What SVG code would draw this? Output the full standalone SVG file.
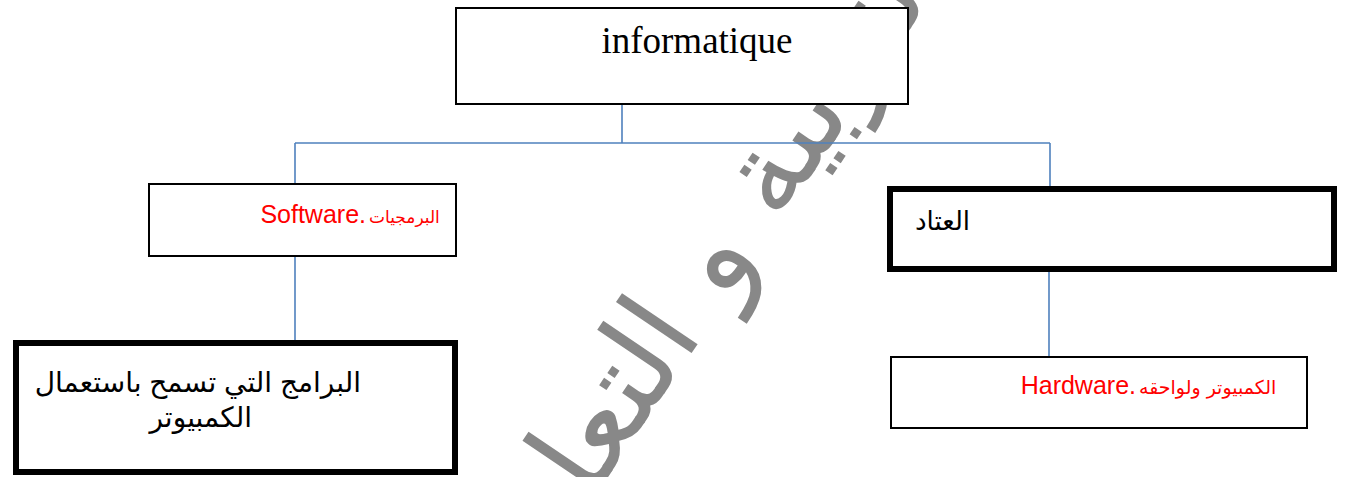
<svg xmlns="http://www.w3.org/2000/svg" width="1346" height="477" viewBox="0 0 1346 477">
<style>
.box{fill:#fff;stroke:#000;stroke-width:2}
.thick{fill:#fff;stroke:#000;stroke-width:6}
.conn{fill:none;stroke:#4f81bd;stroke-width:1.6}
.lat{font-family:"Liberation Sans",Arial,sans-serif;fill:#f00;font-size:25px}
.ar{font-family:"DejaVu Serif","DejaVu Sans",serif;fill:#f00}
.blk{font-family:"Liberation Sans","DejaVu Sans",sans-serif;fill:#000}
.wm{font-family:"DejaVu Sans",sans-serif;fill:#888;font-size:120px}
</style>
<rect width="1346" height="477" fill="#fff"/>
<g id="watermark">
<text class="wm" transform="translate(525,600) rotate(-56)">وزارة التربية و التعليم</text>
</g>
<g id="connectors">
<path class="conn" d="M622 104V143M295 143H1050M295 143V184M1050 143V187M295 256V341M1049 272V357"/>
</g>
<g id="informatique">
<rect class="box" x="456" y="8" width="452" height="96"/>
<text x="697" y="53" text-anchor="middle" font-family="Liberation Serif,Times New Roman,serif" font-size="37" fill="#000">informatique</text>
</g>
<g id="software">
<rect class="box" x="149" y="184" width="307" height="72"/>
<text class="lat" x="366" y="223" text-anchor="end">Software.</text>
<text class="ar" x="369" y="223" font-size="17">البرمجيات</text>
</g>
<g id="materiel">
<rect class="thick" x="890" y="189" width="444" height="80"/>
<text class="blk" x="915" y="230" font-size="26">العتاد</text>
</g>
<g id="programmes">
<rect class="thick" x="16" y="343" width="439" height="129"/>
<text class="blk" x="361" y="392" font-size="28" text-anchor="end">البرامج التي تسمح باستعمال</text>
<text class="blk" x="252" y="427" font-size="28" text-anchor="end">الكمبيوتر</text>
</g>
<g id="hardware">
<rect class="box" x="891" y="357" width="416" height="71"/>
<text class="lat" x="1136" y="394" text-anchor="end">Hardware.</text>
<text class="ar" x="1139" y="394" font-size="19">الكمبيوتر ولواحقه</text>
</g>
</svg>
